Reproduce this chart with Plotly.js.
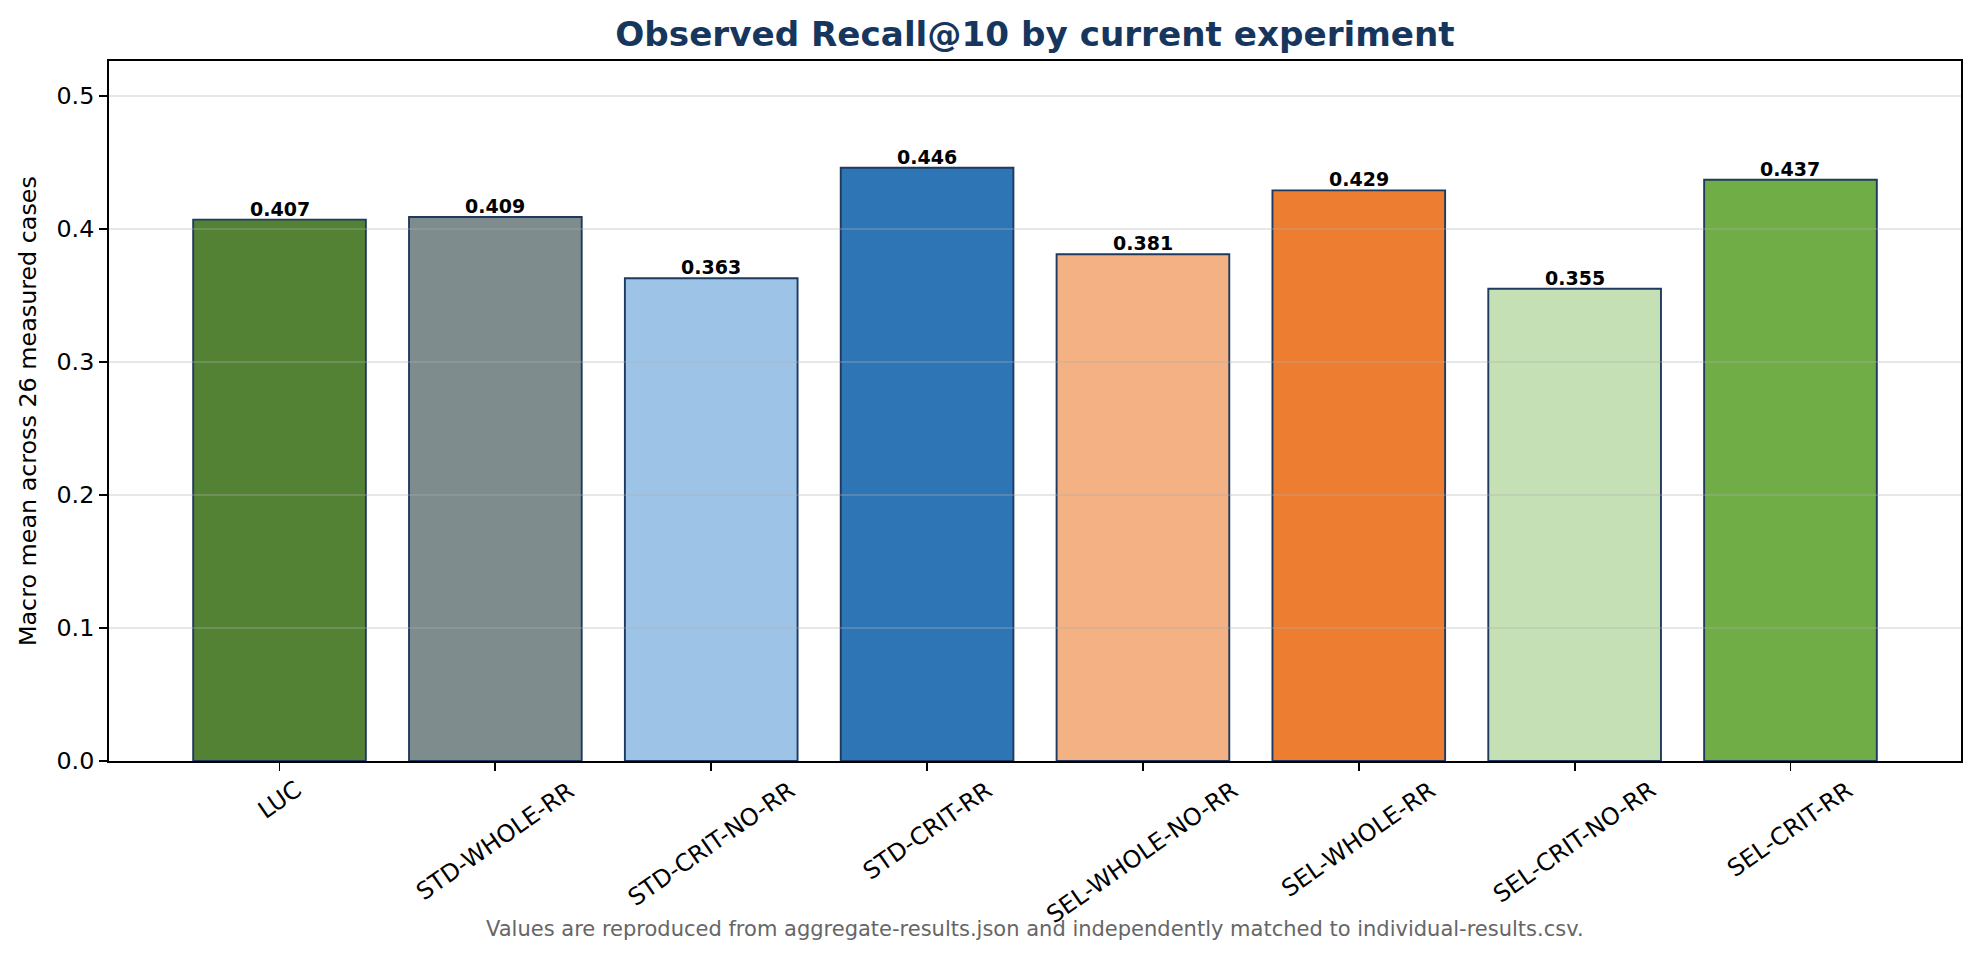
<!DOCTYPE html>
<html>
<head>
<meta charset="utf-8">
<script src="https://cdn.plot.ly/plotly-3.0.1.min.js"></script>
<style>
  html, body { margin: 0; padding: 0; background: #ffffff; }
  #chart { width: 1979px; height: 959px; }
</style>
</head>
<body>
<div id="chart"></div>
<script>
// Experiment configurations and their macro-mean Recall@10
const experiments = ["LUC", "STD-WHOLE-RR", "STD-CRIT-NO-RR", "STD-CRIT-RR",
                     "SEL-WHOLE-NO-RR", "SEL-WHOLE-RR", "SEL-CRIT-NO-RR", "SEL-CRIT-RR"];
const recallAt10 = [0.407, 0.409, 0.363, 0.446, 0.381, 0.429, 0.355, 0.437];
const barColors = ["#548235", "#7f8c8d", "#9dc3e6", "#2e75b6",
                   "#f4b183", "#ed7d31", "#c5e0b4", "#70ad47"];
const yTicks = [0.0, 0.1, 0.2, 0.3, 0.4, 0.5];

const FONT = "DejaVu Sans, Verdana, sans-serif";
const NAVY = "#17365d";
const yMax = Math.max(...recallAt10) * 1.18;

const trace = {
  type: "bar",
  x: experiments,
  y: recallAt10,
  width: 0.8,
  marker: { color: barColors, line: { color: "#1f3a5f", width: 1.9 } },
  hoverinfo: "x+y"
};

// value labels above bars
const valueLabels = experiments.map((name, i) => ({
  x: name, y: recallAt10[i], xref: "x", yref: "y",
  text: "<b>" + recallAt10[i].toFixed(3) + "</b>",
  showarrow: false, xanchor: "center", yanchor: "bottom", yshift: -2,
  font: { family: FONT, size: 19, color: "#000000" }
}));

// rotated category labels, centred under each tick
const categoryLabels = experiments.map(name => ({
  x: name, y: 0, xref: "x", yref: "paper",
  text: name, showarrow: false, textangle: -35,
  xanchor: "center", yanchor: "top", yshift: -12,
  font: { family: FONT, size: 23.8, color: "#000000" }
}));

const extraText = [
  {
    x: 0, xref: "paper", xshift: -81, y: 0.5, yref: "paper",
    text: "Macro mean across 26 measured cases", textangle: -90,
    showarrow: false, xanchor: "center", yanchor: "middle",
    font: { family: FONT, size: 23.8, color: "#000000" }
  },
  {
    x: 0.5, xref: "paper", y: -0.24, yref: "paper",
    text: "Values are reproduced from aggregate-results.json and independently matched to individual-results.csv.",
    showarrow: false, xanchor: "center", yanchor: "middle",
    font: { family: FONT, size: 21, color: "#666666" }
  }
];

// horizontal grid drawn over the bars, faint
const gridLines = yTicks.filter(v => v > 0).map(v => ({
  type: "line", xref: "paper", yref: "y", x0: 0, x1: 1, y0: v, y1: v,
  layer: "above", line: { color: "rgba(176,176,176,0.3)", width: 1.9 }
}));

const layout = {
  width: 1979, height: 959,
  margin: { l: 109, r: 18, t: 61, b: 198 },
  paper_bgcolor: "#ffffff", plot_bgcolor: "#ffffff",
  showlegend: false,
  title: {
    text: "Observed Recall@10 by current experiment",
    x: 0.5, xref: "paper", xanchor: "center",
    y: 1 - 34 / 959, yref: "container", yanchor: "middle",
    font: { family: FONT, size: 34.2, color: NAVY, weight: "bold" }
  },
  xaxis: {
    type: "category", range: [-0.79, 7.79],
    showline: true, mirror: true, linecolor: "#000000", linewidth: 1.9,
    ticks: "outside", ticklen: 8, tickwidth: 1.9, tickcolor: "#000000",
    showticklabels: false, showgrid: false, zeroline: false, fixedrange: true
  },
  yaxis: {
    range: [0, yMax], tickvals: yTicks, tickformat: ".1f",
    showline: true, mirror: true, linecolor: "#000000", linewidth: 1.9,
    ticks: "outside", ticklen: 8, tickwidth: 1.9, tickcolor: "#000000",
    tickfont: { family: FONT, size: 23.8, color: "#000000" },
    showgrid: false, zeroline: false, fixedrange: true
  },
  shapes: gridLines,
  annotations: valueLabels.concat(categoryLabels, extraText)
};

Plotly.newPlot("chart", [trace], layout, { displayModeBar: false, staticPlot: true });
</script>
</body>
</html>
